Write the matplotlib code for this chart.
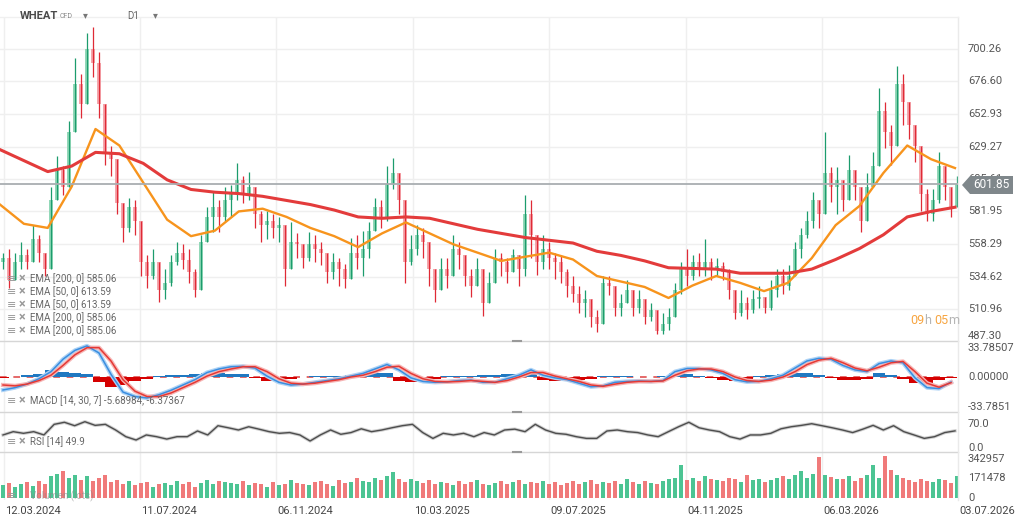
import numpy as np
import matplotlib.pyplot as plt
from matplotlib.patches import Polygon
from matplotlib.lines import Line2D
from matplotlib import transforms

plt.rcParams['font.family'] = ['Roboto', 'DejaVu Sans']

# ---- data (one candle ~ 4 trading days) ----
first_open = 545
close = [548, 532, 545, 550, 545, 562, 552, 540, 590, 612,
         600, 640, 675, 660, 700, 690, 660, 625, 620, 588,
         570, 585, 575, 545, 535, 545, 525, 530, 545, 552,
         547, 538, 525, 560, 578, 585, 578, 590, 595, 605,
         595, 600, 580, 572, 575, 570, 572, 540, 560, 558,
         548, 558, 555, 552, 538, 545, 540, 533, 552, 548,
         555, 568, 585, 578, 602, 610, 590, 545, 555, 565,
         560, 540, 525, 540, 535, 555, 550, 535, 528, 540,
         515, 530, 548, 545, 538, 550, 540, 580, 565, 545,
         555, 548, 545, 538, 528, 522, 515, 518, 505, 500,
         530, 528, 512, 515, 525, 512, 518, 505, 510, 495,
         500, 505, 525, 540, 535, 545, 540, 545, 540, 542,
         538, 525, 508, 515, 510, 518, 520, 512, 525, 535,
         528, 535, 555, 565, 575, 590, 580, 610, 600, 605,
         590, 612, 600, 575, 600, 615, 655, 640, 630, 675,
         662, 645, 630, 595, 580, 590, 615, 600, 585, 601.85]
high = [552, 555, 552, 560, 555, 572, 565, 550, 600, 622,
        615, 648, 694, 682, 712, 716, 698, 655, 630, 606,
        585, 592, 590, 572, 550, 555, 538, 540, 550, 560,
        558, 555, 540, 565, 585, 596, 590, 600, 601, 617,
        608, 611, 594, 582, 582, 580, 578, 567, 574, 566,
        556, 567, 565, 560, 545, 552, 548, 544, 563, 565,
        568, 574, 592, 590, 615, 621, 605, 575, 565, 572,
        570, 555, 540, 548, 548, 565, 560, 545, 540, 548,
        538, 538, 555, 552, 548, 555, 550, 594, 590, 552,
        565, 560, 552, 550, 540, 535, 528, 525, 515, 510,
        535, 535, 525, 522, 532, 522, 525, 515, 515, 505,
        508, 512, 530, 545, 555, 550, 552, 562, 548, 548,
        545, 540, 520, 525, 520, 525, 528, 520, 532, 540,
        540, 543, 560, 570, 582, 596, 590, 640, 614, 614,
        602, 623, 612, 590, 610, 625, 672, 662, 645, 688,
        682, 655, 645, 610, 598, 598, 625, 615, 600, 608]
low = [540, 526, 535, 540, 540, 548, 545, 535, 555, 595,
       594, 620, 657, 650, 680, 680, 650, 616, 608, 580,
       560, 567, 565, 535, 526, 533, 516, 518, 528, 543,
       540, 530, 520, 545, 563, 567, 567, 575, 578, 590,
       588, 590, 570, 560, 562, 563, 560, 528, 552, 548,
       541, 546, 545, 543, 530, 533, 528, 526, 543, 540,
       535, 548, 572, 570, 575, 598, 580, 530, 543, 550,
       548, 528, 516, 528, 526, 540, 540, 528, 520, 530,
       506, 515, 532, 535, 530, 538, 528, 535, 548, 536,
       540, 540, 533, 530, 520, 516, 508, 505, 498, 494,
       500, 521, 506, 506, 515, 506, 508, 500, 502, 493,
       493, 496, 505, 522, 528, 532, 535, 535, 532, 535,
       532, 518, 504, 506, 504, 508, 512, 508, 510, 520,
       522, 525, 540, 548, 563, 570, 570, 585, 589, 580,
       582, 594, 590, 567, 590, 605, 625, 628, 616, 640,
       645, 635, 618, 582, 575, 575, 588, 590, 578, 585]
volume_k = [110, 130, 95, 120, 140, 105, 150, 120, 190, 210,
            235, 180, 200, 160, 190, 150, 175, 200, 140, 160,
            120, 150, 110, 130, 140, 100, 120, 135, 110, 150,
            125, 140, 100, 130, 160, 120, 150, 140, 130, 125,
            150, 110, 135, 120, 100, 140, 115, 125, 160, 130,
            120, 110, 140, 150, 125, 105, 160, 130, 145, 180,
            150, 140, 175, 160, 190, 225, 170, 140, 165, 150,
            130, 160, 120, 145, 135, 110, 150, 125, 140, 160,
            120, 110, 135, 150, 125, 140, 160, 120, 145, 130,
            150, 125, 140, 115, 130, 150, 120, 140, 160, 125,
            145, 130, 150, 120, 165, 140, 125, 150, 135, 120,
            150, 165, 180, 288, 160, 175, 150, 190, 170, 160,
            150, 180, 165, 140, 200, 155, 170, 145, 160, 175,
            190, 165, 200, 235, 180, 210, 361, 200, 185, 170,
            165, 190, 150, 175, 200, 288, 180, 370, 245, 200,
            175, 160, 145, 165, 150, 140, 170, 155, 135, 190]

ema200 = [627, 619, 611, 615, 625, 624, 617, 605, 598, 596,
          595, 593, 590, 587, 583, 578, 577, 578, 577, 573,
          569, 566, 563, 561, 559, 553, 550, 546, 541, 540.5,
          540, 537, 537, 537, 540, 547, 555, 565, 578, 582, 585.06]
ema50 = [587, 573, 570, 600, 642, 630, 603, 576, 564, 568,
         582, 584, 578, 570, 564, 556, 566, 574, 566, 558,
         552, 546, 549, 552, 547, 535, 531, 527, 519, 528,
         535, 530, 524, 530, 548, 572, 586, 610, 630, 620, 613.59]

macd = [-14.6, -12, -8, -2, 6, 20, 30, 35, 27, 3,
        -17, -22, -23.6, -20, -15, -9, -3, 5, 9, 11.5,
        12, 10, 1, -6, -9, -8, -6, -4, -2, 1,
        4, 9, 14, 8, -1, -5, -6, -5.5, -4, -3.5,
        -6, -6, -2, 2, 8, 2, -1, -3, -7, -11,
        -10, -6, -5, -4.5, -5, -4, 6, 9.5, 9.5, 8,
        4, -3, -5.5, -5, -2, 2, 10, 18, 21, 20,
        13, 8, 6, 15, 18, 16, -1, -12, -13, -5.69]
signal = [-9, -10, -8, -4, 2, 13, 25, 33, 33, 18,
          -3, -16, -22, -22, -18, -12, -6, 1, 6, 9,
          11.5, 11.5, 6, -2, -7, -8, -7, -5, -3, 0,
          2, 6, 11, 12, 4, -2, -5, -5.5, -5, -4,
          -5, -6, -4, 0, 5, 5, 1, -2, -5, -9,
          -10.5, -8, -6, -5, -5, -4.5, 2, 7, 9, 9,
          6, 0, -4, -5, -3.5, 0, 6, 14, 19, 21,
          16, 10, 7, 11, 16, 17.5, 6, -7, -11.5, -6.37]
hist = [-1, 0, 2, 3, 8, 6, 5, 3, -6, -11,
        -9, -4, -2, 1, 2, 2, 3, 4, 4, 3,
        3, -1, -4, -4, -2, 0, 1, 1, 1, 2,
        3, 4, 5, -5, -6, -3, -2, 1, 1, 1,
        2, 2, 3, 3, 4, -3, -4, -3, -3, -2,
        1, 1, 1, 0.5, 0, 1, 4, 3, 1, -1,
        -3, -4, -2, 1, 2, 3, 4, 4, 2, -1,
        -3, -3, -2, 4, 2, -2, -7, -8, -3, -1]

rsi = [38, 47.6, 42.8, 47.6, 38, 69, 75, 65, 76.7, 66,
       69, 52.5, 33, 23.3, 38, 33, 26, 33, 33, 49.6,
       38, 65, 59, 52.5, 62, 55, 47.6, 42.8, 45, 38,
       20.4, 38, 52.5, 40, 45, 56, 47.6, 52.5, 59, 65,
       69, 45, 28, 42.8, 38, 42.8, 33, 45, 38, 52.5,
       55, 47.6, 69, 52.5, 42.8, 40, 33, 28, 28, 49.6,
       52.5, 47.6, 45, 38, 33, 47.6, 62, 75, 59, 52.5,
       47.6, 33, 26, 38, 38, 42.8, 56, 62, 66, 70.8,
       65, 59, 52.5, 45, 55, 66, 52.5, 65, 47.6, 38,
       28, 33, 45, 49.9]

dates = ['12.03.2024', '11.07.2024', '06.11.2024', '10.03.2025',
         '09.07.2025', '04.11.2025', '06.03.2026', '03.07.2026']
price_ticks = [700.26, 676.60, 652.93, 629.27, 605.61,
               581.95, 558.29, 534.62, 510.96, 487.30]
last_price = 601.85

# ---- layout helpers (pixel coords of the 1024x526 picture) ----
W, H = 1024, 526
def box(x0, y0, x1, y1):
    return [x0 / W, 1 - y1 / H, (x1 - x0) / W, (y1 - y0) / H]
def u(px):  # pixel x -> candle index
    return (px - 3) / 6.0

GRID = '#efefef'
LBL = '#555555'
grid_px = [4, 140, 276, 413, 549, 686, 822]

fig = plt.figure(figsize=(W / 100, H / 100), dpi=100)
fig.patch.set_facecolor('white')

ax_p = fig.add_axes(box(0, 17, 958, 341))
ax_m = fig.add_axes(box(0, 341, 958, 412))
ax_r = fig.add_axes(box(0, 412, 958, 452))
ax_v = fig.add_axes(box(0, 452, 958, 500))
for ax in (ax_p, ax_m, ax_r, ax_v):
    ax.set_xlim(u(0), u(958))
    ax.axis('off')
    for gx in grid_px:
        ax.axvline(u(gx), color=GRID, lw=1, zorder=0)

def right_labels(ax, vals, texts, shift=None):
    tr = transforms.blended_transform_factory(ax.transAxes, ax.transData)
    for v, t in zip(vals, texts):
        off = (shift or {}).get(t, 0)
        ax.text(968 / 958, v + off, t, transform=tr, ha='left', va='center',
                fontsize=8, color=LBL, clip_on=False)

# ---- price panel ----
n = len(close)
xs = np.arange(n)
opens = [first_open] + close[:-1]
ax_p.set_ylim(700.26 - 292 / 1.3735, 700.26 + 32 / 1.3735)
for v in price_ticks:
    ax_p.axhline(v, color=GRID, lw=1, zorder=0)
for i in range(n):
    o, c = opens[i], close[i]
    up = c >= o
    light = '#92d8b8' if up else '#f5a7ad'
    dark = '#1c9c6d' if up else '#df2a36'
    ax_p.bar(xs[i], c - o if c != o else 0.8, bottom=o, width=0.55,
             color=light, zorder=2)
    ax_p.vlines(xs[i], min(low[i], o, c), max(high[i], o, c),
                color=dark, lw=0.9, zorder=3)

ex = np.linspace(u(0), u(955), len(ema200))
ax_p.plot(ex, ema50, color='#f7941d', lw=1.7, zorder=4)
ax_p.plot(ex, ema200, color='#e33b3b', lw=2.2, zorder=4)
ax_p.axhline(last_price, color='#a9aeb1', lw=1.3, zorder=5)
# bottom label sits a little inside the panel, as in the platform
right_labels(ax_p, price_ticks, ['%.2f' % v for v in price_ticks],
             shift={'487.30': 4.0})

legend_rows = ['EMA [200, 0] 585.06', 'EMA [50, 0] 613.59', 'EMA [50, 0] 613.59',
               'EMA [200, 0] 585.06', 'EMA [200, 0] 585.06']
for k, t in enumerate(legend_rows):
    yy = 279 + 13 * k
    fig.text(7 / W, 1 - yy / H, '≡', fontsize=8, color='#999999', va='center')
    fig.text(19 / W, 1 - yy / H, '×', fontsize=9, color='#999999', va='center',
             fontweight='bold')
    fig.text(30 / W, 1 - yy / H, t, fontsize=7, color='#666666', va='center')

# price tag
tag = Polygon([(962 / W, 1 - 185 / H), (970 / W, 1 - 176 / H), (1013 / W, 1 - 176 / H),
               (1013 / W, 1 - 194 / H), (970 / W, 1 - 194 / H)],
              closed=True, transform=fig.transFigure, facecolor='#7f878b',
              edgecolor='none', zorder=10)
fig.patches.append(tag)
fig.text(991 / W, 1 - 185 / H, '%.2f' % last_price, fontsize=8.5, color='white',
         ha='center', va='center', zorder=11)

# countdown
for px, t, col in [(910, '09', '#f7a541'), (924, 'h', '#b5b5b5'),
                   (934, '05', '#f7a541'), (948, 'm', '#b5b5b5')]:
    fig.text(px / W, 1 - 321 / H, t, fontsize=9, color=col, va='center')

# header
fig.text(20 / W, 1 - 16 / H, 'WHEAT', fontsize=8, fontweight='bold', color='#4a4a4a', va='center')
fig.text(60 / W, 1 - 16 / H, 'CFD', fontsize=5, color='#8a8a8a', va='center')
fig.text(83 / W, 1 - 15 / H, '▾', fontsize=7, color='#777777', va='center')
fig.text(127 / W, 1 - 16 / H, 'D1', fontsize=7, color='#666666', va='center')
fig.text(153 / W, 1 - 15 / H, '▾', fontsize=7, color='#777777', va='center')

# ---- MACD panel ----
ax_m.set_ylim(-39.4, 40.5)
mx = np.linspace(u(3), u(951), len(macd))
hx = np.linspace(u(3), u(951), len(hist))
hcol = ['#1f78c1' if h >= 0 else '#d50000' for h in hist]
ax_m.bar(hx, hist, width=hx[1] - hx[0], color=hcol, zorder=2)
ax_m.axhline(0, color='#e05050', lw=1.2, ls=(0, (4, 4)), zorder=1)
ax_m.plot(mx, macd, color='#aed3f5', lw=3, zorder=3)
ax_m.plot(mx, macd, color='#3a8ee0', lw=1.1, zorder=4)
ax_m.plot(mx, signal, color='#f6b5b5', lw=3, zorder=3)
ax_m.plot(mx, signal, color='#e53935', lw=1.1, zorder=4)
right_labels(ax_m, [33.785, 0, -33.785], ['33.78507', '0.00000', '-33.7851'],
             shift={'33.78507': -1.5})
fig.text(7 / W, 1 - 401 / H, '≡', fontsize=8, color='#999999', va='center')
fig.text(19 / W, 1 - 401 / H, '×', fontsize=9, color='#999999', va='center', fontweight='bold')
fig.text(30 / W, 1 - 401 / H, 'MACD [14, 30, 7] -5.68984, -6.37367', fontsize=7,
         color='#666666', va='center')

# ---- RSI panel ----
ax_r.set_ylim(-11.7, 105)
rx = np.linspace(u(3), u(955), len(rsi))
ax_r.plot(rx, rsi, color='#cfcfcf', lw=2.4, zorder=2)
ax_r.plot(rx, rsi, color='#4d4d4d', lw=1.0, zorder=3)
right_labels(ax_r, [70, 0], ['70.0', '0.0'])
fig.text(7 / W, 1 - 442 / H, '≡', fontsize=8, color='#999999', va='center')
fig.text(19 / W, 1 - 442 / H, '×', fontsize=9, color='#999999', va='center', fontweight='bold')
fig.text(30 / W, 1 - 442 / H, 'RSI [14] 49.9', fontsize=7, color='#666666', va='center')

# ---- volume panel ----
ax_v.set_ylim(-17.6, 404.5)
vcol = ['#4cc493' if close[i] >= opens[i] else '#f07a7a' for i in range(n)]
ax_v.bar(xs, volume_k, width=0.6, color=vcol, zorder=2)
right_labels(ax_v, [342.957, 171.478, 0], ['342957', '171478', '0'])
fig.text(7 / W, 1 - 496 / H, '≡', fontsize=8, color='#999999', va='center')
fig.text(30 / W, 1 - 496 / H, 'Volumen (lots)', fontsize=7, color='#888888',
         va='center', alpha=0.6)

# ---- separators, borders, dates ----
for sy in (341, 412, 452):
    fig.add_artist(Line2D([0, 958 / W], [1 - sy / H] * 2, color='#d6d6d6', lw=1))
    fig.add_artist(Line2D([513 / W, 521 / W], [1 - sy / H] * 2, color='#999999', lw=1.5))
fig.add_artist(Line2D([958 / W] * 2, [1 - 17 / H, 1 - 500 / H], color='#eaeaea', lw=1))
fig.add_artist(Line2D([0, 958 / W], [1 - 17 / H] * 2, color='#f0f0f0', lw=1))

for gx, d in zip(grid_px + [958], dates):
    fig.text((gx + 1) / W, 1 - 511 / H, d, fontsize=8, color='#444444',
             ha='left', va='center')

fig.savefig('out.png', dpi=100)
